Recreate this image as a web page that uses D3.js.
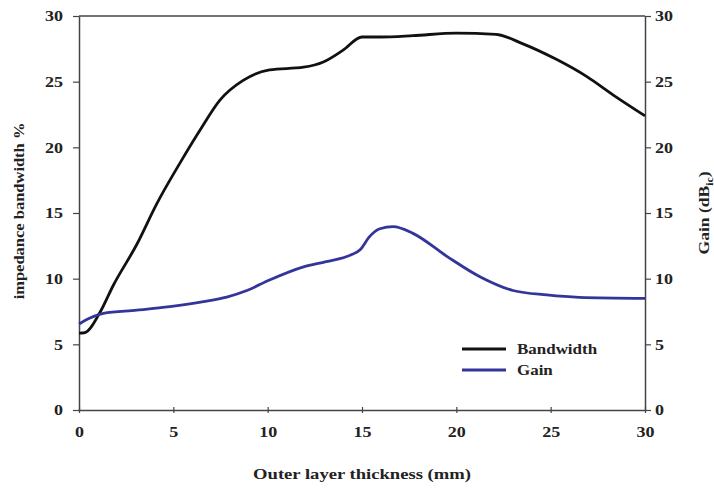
<!DOCTYPE html>
<html><head><meta charset="utf-8">
<script src="https://cdn.jsdelivr.net/npm/d3@7"></script>
<style>body{margin:0;background:#fff}svg{display:block}text{font-family:"Liberation Serif","Times New Roman",serif;font-weight:bold}</style>
</head><body><svg id="c" width="714" height="489"></svg>
<script>
const bwX = [0, 0.32, 1.1, 1.82, 3.06, 4.12, 5.35, 6.41, 7.47, 8.7, 10.1, 11.9, 12.95, 14.0, 15.0, 16.0, 17.7, 20.0, 22.1, 23.5, 25.3, 26.9, 28.3, 30];
const bwY = [5.85, 5.9, 7.4, 9.5, 12.6, 15.7, 18.8, 21.3, 23.6, 25.1, 25.9, 26.1, 26.5, 27.4, 28.4, 28.4, 28.5, 28.7, 28.6, 27.9, 26.7, 25.4, 24.0, 22.4];
const gainX = [0, 0.58, 1.29, 3.06, 4.82, 6.6, 7.83, 8.9, 10.1, 11.9, 13.1, 14.4, 14.9, 15.4, 15.95, 16.65, 17.7, 19.5, 21.25, 23.0, 24.8, 26.5, 30];
const gainY = [6.55, 7.0, 7.36, 7.6, 7.87, 8.25, 8.6, 9.1, 9.9, 10.9, 11.3, 11.8, 12.2, 13.2, 13.8, 13.96, 13.45, 11.7, 10.15, 9.1, 8.76, 8.58, 8.5];
const xTicks = [0, 5, 10, 15, 20, 25, 30];
const yTicks = [0, 5, 10, 15, 20, 25, 30];

const svg = d3.select("#c");
const L = 79, R = 645, T = 16, B = 410;
const x = d3.scaleLinear().domain([0, 30]).range([L, R]);
const yL = d3.scaleLinear().domain([0, 30]).range([B, T]);
const yR = d3.scaleLinear().domain([0, 30]).range([B, T]);

const axCol = "#444";
svg.append("line").attr("x1", L).attr("x2", R).attr("y1", T).attr("y2", T).attr("stroke", axCol).attr("stroke-width", 1.5);

function stretch(sel, k) {
  sel.each(function () {
    const len = this.getComputedTextLength();
    d3.select(this).attr("textLength", len * k).attr("lengthAdjust", "spacingAndGlyphs");
  });
}
function style(g) {
  g.selectAll(".domain").attr("stroke", axCol).attr("stroke-width", 1.5);
  g.selectAll(".tick line").attr("stroke", axCol).attr("stroke-width", 1.2);
  g.selectAll("text").attr("font-size", 15).attr("fill", "#222").attr("font-family", '"Liberation Serif",serif').attr("font-weight", "bold");
  stretch(g.selectAll("text"), 1.2);
}
const gx = svg.append("g").attr("transform", `translate(0,${B})`)
  .call(d3.axisBottom(x).tickValues(xTicks).tickSizeInner(4).tickSizeOuter(0).tickPadding(12));
style(gx);
gx.selectAll(".tick line").attr("y1", -3).attr("y2", 3);
const gl = svg.append("g").attr("transform", `translate(${L},0)`)
  .call(d3.axisLeft(yL).tickValues(yTicks).tickSizeInner(6).tickSizeOuter(0).tickPadding(10));
style(gl);
const gr = svg.append("g").attr("transform", `translate(${R},0)`)
  .call(d3.axisRight(yR).tickValues(yTicks).tickSizeInner(6).tickSizeOuter(0).tickPadding(4));
style(gr);

const line = d3.line().curve(d3.curveMonotoneX);
svg.append("path").attr("d", line(bwX.map((v, i) => [x(v), yL(bwY[i])])))
  .attr("fill", "none").attr("stroke", "#111").attr("stroke-width", 2.8);
svg.append("path").attr("d", line(gainX.map((v, i) => [x(v), yR(gainY[i])])))
  .attr("fill", "none").attr("stroke", "#33359a").attr("stroke-width", 2.8);

// titles
const xt = svg.append("text").attr("x", 362).attr("y", 479).attr("text-anchor", "middle")
  .attr("font-size", 15).attr("fill", "#222").text("Outer layer thickness (mm)");
stretch(xt, 1.24);
svg.append("text").attr("transform", `translate(24,211) rotate(-90) scale(1.1,1)`).attr("text-anchor", "middle")
  .attr("font-size", 15).attr("fill", "#222").text("impedance bandwidth %");
const rt = svg.append("text").attr("transform", `translate(709,213) rotate(-90) scale(1.17,1)`).attr("text-anchor", "middle")
  .attr("font-size", 15).attr("fill", "#222");
rt.append("tspan").text("Gain (dB");
rt.append("tspan").attr("font-size", 10).attr("dy", 4).text("ic");
rt.append("tspan").attr("dy", -4).text(")");

// legend
const leg = [["Bandwidth", "#111"], ["Gain", "#33359a"]];
leg.forEach((d, i) => {
  const yy = 349 + i * 21;
  svg.append("line").attr("x1", 462).attr("x2", 506).attr("y1", yy).attr("y2", yy).attr("stroke", d[1]).attr("stroke-width", 2.8);
  const t = svg.append("text").attr("x", 517).attr("y", yy + 5).attr("font-size", 15).attr("fill", "#222").text(d[0]);
  stretch(t, 1.13);
});
</script></body></html>
